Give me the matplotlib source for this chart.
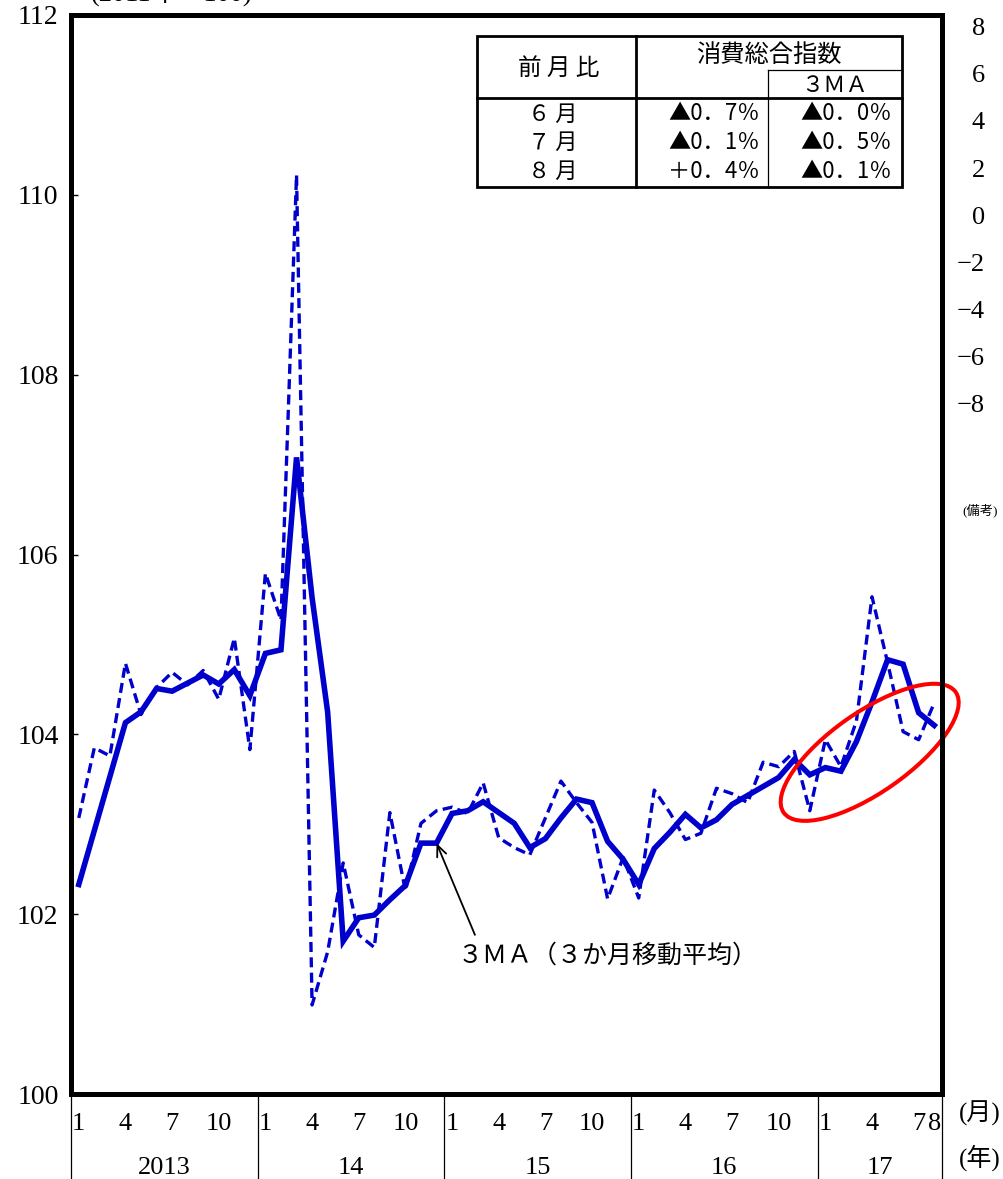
"""
消費総合指数の推移（月次、3か月移動平均）
"""

import matplotlib

matplotlib.use("Agg")
from matplotlib import pyplot as plt
from matplotlib.patches import Ellipse, Rectangle
from matplotlib.transforms import ScaledTranslation, blended_transform_factory
import numpy as np

plt.rcParams["font.family"] = ["Liberation Serif", "Noto Sans CJK JP", "DejaVu Sans"]
CJK = ["Noto Sans CJK JP", "DejaVu Sans"]

# 2013年1月～2017年8月（2011年＝100）
index_monthly = [
    103.07, 103.85, 103.76, 104.79, 104.22, 104.52, 104.69, 104.55, 104.71, 104.39, 105.07, 103.83,
    105.79, 105.27, 110.22, 100.99, 101.58, 102.57, 101.77, 101.63, 103.13, 102.26, 103.01, 103.15,
    103.19, 103.12, 103.46, 102.85, 102.74, 102.66, 103.07, 103.48, 103.24, 103.02, 102.17, 102.63,
    102.18, 103.38, 103.13, 102.83, 102.90, 103.40, 103.34, 103.24, 103.69, 103.64, 103.81, 103.15,
    103.94, 103.64, 104.15, 105.53, 104.80, 104.03, 103.94, 104.35,
]
index_3ma = [
    102.33, 102.93, 103.53, 104.13, 104.25, 104.51, 104.48, 104.57, 104.66, 104.56, 104.72, 104.43,
    104.90, 104.94, 107.08, 105.52, 104.25, 101.70, 101.96, 101.99, 102.16, 102.32, 102.79, 102.79,
    103.12, 103.15, 103.25, 103.13, 103.01, 102.74, 102.84, 103.07, 103.28, 103.24, 102.81, 102.61,
    102.33, 102.73, 102.91, 103.11, 102.96, 103.05, 103.22, 103.32, 103.42, 103.52, 103.72, 103.55,
    103.63, 103.59, 103.92, 104.36, 104.83, 104.78, 104.24, 104.10,
]
years = ["2013", "14", "15", "16", "17"]
month_ticks = [1, 4, 7, 10]
last_year_ticks = [1, 4, 7, 8]
right_ticks = [-8, -6, -4, -2, 0, 2, 4, 6, 8]

# 前月比
table_rows = ["６ 月", "７ 月", "８ 月"]
table_mom = ["▲0．7％", "▲0．1％", "＋0．4％"]
table_3ma = ["▲0．0％", "▲0．5％", "▲0．1％"]

BLUE = "#0000cc"
W, H = 1004, 1179
L, R, T, B = 71, 942, 15, 1094


def ax_x(px):
    return (px - L) / (R - L)


def ax_y(py):
    return (B - py) / (B - T)


fig = plt.figure(figsize=(W / 100, H / 100), dpi=100)
fig.patch.set_facecolor("white")
ax = fig.add_axes([L / W, (H - B) / H, (R - L) / W, (B - T) / H])

n = len(index_monthly)
x = np.arange(n)
ax.plot(x, index_monthly, color=BLUE, lw=2.4, ls="--", dashes=(3, 1.6), zorder=2)
ax.plot(x, index_3ma, color=BLUE, lw=4.0, solid_joinstyle="miter", zorder=2.1)

ax.set_xlim(-0.5, n - 0.5)
ax.set_ylim(100, 112)
ax.set_yticks(range(100, 113, 2))
ax.set_xticks([])
ax.tick_params(axis="y", direction="in", length=5, width=1, labelsize=20, pad=9)
for s in ax.spines.values():
    s.set_linewidth(3.6)

# 右軸（前年比）
ax2 = ax.twinx()
ax2.set_ylim(-37.4, 8.51)
ax2.set_yticks(right_ticks)
ax2.tick_params(axis="y", length=0, labelsize=19, pad=31)
for t in ax2.get_yticklabels():
    t.set_horizontalalignment("right")
for s in ax2.spines.values():
    s.set_visible(False)

# 月・年の目盛
bt = blended_transform_factory(ax.transData, ax.transAxes)
for k, yr in enumerate(years):
    start = k * 12
    ticks = last_year_ticks if k == len(years) - 1 else month_ticks
    for m in ticks:
        ax.text(start + m - 1, -0.0275, str(m), transform=bt, ha="center", va="center", size=19)
    end = min(start + 12, n)
    ax.text((start + end - 1) / 2, -0.0685, yr, transform=bt, ha="center", va="center", size=19)
    ax.plot([start - 0.5, start - 0.5], [0, -0.1], transform=bt, color="black", lw=0.9, clip_on=False)
ax.plot([n - 0.5, n - 0.5], [0, -0.1], transform=bt, color="black", lw=0.9, clip_on=False)
ax.text(ax_x(980), ax_y(1113), "(月)", transform=ax.transAxes, ha="center", va="center", size=18)
ax.text(ax_x(980), ax_y(1158), "(年)", transform=ax.transAxes, ha="center", va="center", size=18)
ax.text(ax_x(980), ax_y(510), "(備考)", transform=ax.transAxes, ha="center", va="center", size=9.5)
fig.text(172 / W, 1 - 6 / H, "(2011年＝100)", ha="center", va="bottom", size=19)

# 3MAの注記
ax.annotate(
    "",
    xy=(23, index_3ma[23]),
    xytext=(25.47, 101.77),
    arrowprops=dict(arrowstyle="->,head_length=0.8,head_width=0.35", color="black", lw=1.3,
                    shrinkA=0, shrinkB=0),
    zorder=3,
)
ax.text(33.99, 101.54, "３ＭＡ（３か月移動平均）", ha="center", va="center", size=18, family=CJK)

# 直近の動きを囲む楕円
trans = fig.dpi_scale_trans + ScaledTranslation(50.85, 103.80, ax.transData)
ax.add_patch(Ellipse((0, 0), 2.10, 0.80, angle=35, transform=trans, fill=False,
                     edgecolor="red", lw=2.9, clip_on=False, zorder=2.3))

# 前月比の表
ta = ax.transAxes
ax.add_patch(Rectangle((ax_x(477), ax_y(187)), ax_x(902) - ax_x(477), ax_y(36) - ax_y(187),
                       transform=ta, facecolor="white", edgecolor="black", lw=2, zorder=4))
ax.plot([ax_x(636)] * 2, [ax_y(36), ax_y(187)], transform=ta, color="black", lw=2, zorder=5)
ax.plot([ax_x(477), ax_x(902)], [ax_y(98)] * 2, transform=ta, color="black", lw=2, zorder=5)
ax.plot([ax_x(768)] * 2, [ax_y(70), ax_y(187)], transform=ta, color="black", lw=0.9, zorder=5)
ax.plot([ax_x(768), ax_x(902)], [ax_y(70)] * 2, transform=ta, color="black", lw=0.9, zorder=5)
ax.text(ax_x(559), ax_y(68), "前 月 比", transform=ta, ha="center", va="center", size=17,
        family=CJK, zorder=6)
ax.text(ax_x(769), ax_y(55), "消費総合指数", transform=ta, ha="center", va="center", size=17.5,
        family=CJK, zorder=6)
ax.text(ax_x(835), ax_y(86), "３ＭＡ", transform=ta, ha="center", va="center", size=16,
        family=CJK, zorder=6)
for i, row in enumerate(table_rows):
    py = 114 + i * 28.5
    ax.text(ax_x(553), ax_y(py), row, transform=ta, ha="center", va="center", size=16,
            family=CJK, zorder=6)
    ax.text(ax_x(760), ax_y(py), table_mom[i], transform=ta, ha="right", va="center", size=16,
            family=CJK, zorder=6)
    ax.text(ax_x(892), ax_y(py), table_3ma[i], transform=ta, ha="right", va="center", size=16,
            family=CJK, zorder=6)

plt.savefig("out.png", dpi=100)
